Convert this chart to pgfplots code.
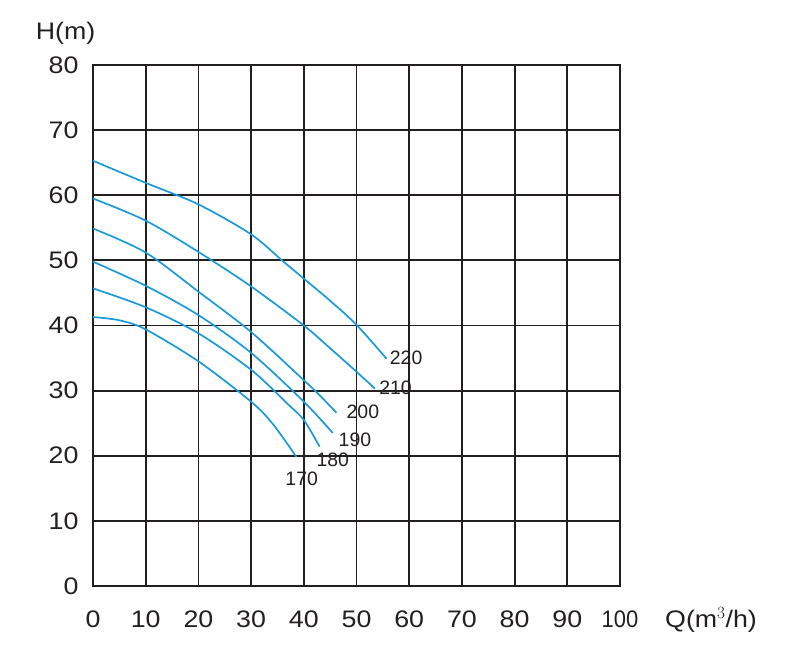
\documentclass[border=0pt]{standalone}
\usepackage{pgfplots}
\pgfplotsset{compat=1.18}
\usepackage{graphicx}
\usepackage{fontspec}
\setmainfont{Liberation Sans}
\newfontfamily\widefont{Liberation Sans}[FakeStretch=1.12]
\definecolor{gridc}{HTML}{231F20}
\definecolor{curve}{HTML}{1A9AD6}
\begin{document}
\begin{tikzpicture}[x=1bp,y=1bp]
\begin{axis}[
  scale only axis, width=527bp, height=521bp,
  xmin=0, xmax=100, ymin=0, ymax=80,
  xtick={0,10,...,100}, ytick={0,10,...,80},
  xticklabels={0,10,20,30,40,50,60,70,80,90,{\scalebox{0.82}[1]{100}}},
  grid=major,
  major grid style={gridc, line width=1.8bp},
  axis line style={gridc, line width=2.2bp},
  tick style={draw=none},
  /pgf/number format/assume math mode=true,
  ticklabel style={font=\widefont\fontsize{24}{24}\selectfont, text=gridc},
  xticklabel style={yshift=-21bp},
  yticklabel style={xshift=-11bp},
  clip=false,
]
\addplot[curve, line width=1.7bp, smooth] coordinates {(0,65.3)(10,61.9)(20,58.6)(30,54.0)(36,49.9)(40,47.2)(45,43.8)(50,40.1)(55.7,34.9)};
\addplot[curve, line width=1.7bp, smooth] coordinates {(0,59.5)(10,56.1)(20,51.3)(30,46.0)(40,40.0)(45,36.5)(50,32.9)(53.5,30.3)};
\addplot[curve, line width=1.7bp, smooth] coordinates {(0,54.9)(10,51.2)(20,45.2)(30,39.0)(40,31.6)(43,29.3)(46.2,26.6)};
\addplot[curve, line width=1.7bp, smooth] coordinates {(0,49.8)(10,46.1)(20,41.6)(30,35.8)(40,28.3)(45.5,23.5)};
\addplot[curve, line width=1.7bp, smooth] coordinates {(0,45.7)(10,42.8)(20,38.8)(30,33.2)(37,27.9)(40,25.5)(43.0,21.4)};
\addplot[curve, line width=1.7bp, smooth] coordinates {(0,41.3)(5,40.8)(10,39.4)(20,34.5)(30,28.3)(34.2,24.8)(38.6,19.8)};
\begin{scope}[every node/.style={font=\fontsize{19.5}{20}\selectfont, text=gridc, inner sep=0pt}]
\node[anchor=west] at (axis cs:56.3,35.0) {220};
\node[anchor=west] at (axis cs:54.3,30.4) {210};
\node[anchor=west] at (axis cs:48.1,26.8) {200};
\node at (axis cs:49.7,22.4) {190};
\node at (axis cs:45.5,19.3) {180};
\node at (axis cs:39.6,16.4) {170};
\end{scope}
\node[font=\widefont\fontsize{24}{24}\selectfont, text=gridc] at (axis cs:-5.2,84.9) {H(m)};
\node[font=\widefont\fontsize{24}{24}\selectfont, text=gridc, anchor=west] at (axis cs:107.9,-5.2) {Q(m$^3$/h)};
\end{axis}
\path[use as bounding box] (-93,-65) rectangle (697,586);
\end{tikzpicture}
\end{document}
